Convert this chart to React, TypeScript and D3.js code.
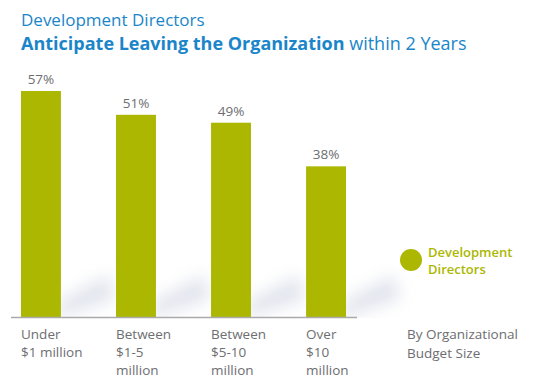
import React from 'react'
import * as d3 from 'd3'

const categories = ['Under|$1 million', 'Between|$1-5|million', 'Between|$5-10|million', 'Over|$10|million']
const values = [57, 51, 49, 38]
const seriesName = ['Development', 'Directors']
const axisNote = ['By Organizational', 'Budget Size']

const W = 545
const H = 392
const green = '#abb700'
const blue = '#1a86c9'
const grey = '#6d6e71'

function App() {
  // bars sit on a zero baseline at y=317
  const x = d3.scaleBand().domain(categories).range([21, 346]).paddingInner(0.58).paddingOuter(0)
  const y = d3.scaleLinear().domain([0, 57]).range([317, 91])

  return (
    <svg width={W} height={H} style={{ position: 'absolute', left: 0, top: 0, fontFamily: "'Open Sans', 'Noto Sans', sans-serif" }}>
      <defs>
        <filter id="blur" x="-50%" y="-50%" width="200%" height="200%">
          <feGaussianBlur stdDeviation="8" />
        </filter>
      </defs>
      <rect width={W} height={H} fill="#fff" />
      <text x={21} y={26} fontSize={17} fill={blue}>Development Directors</text>
      <text x={21} y={50} fontSize={18} fill={blue}>
        <tspan fontWeight="bold">Anticipate Leaving the Organization</tspan>
        <tspan> within 2 Years</tspan>
      </text>

      {/* soft diagonal shadows behind bars */}
      {categories.map((c) => {
        const bx = (x(c) as number) + x.bandwidth()
        return (
          <polygon
            key={'s' + c}
            points={`${bx - 6},${y(0) + 2} ${bx - 2},${y(0) - 16} ${bx + 48},${y(0) - 42} ${bx + 54},${y(0) - 18}`}
            fill="#c6cbdc"
            opacity={0.5}
            filter="url(#blur)"
          />
        )
      })}
      <rect x={0} y={y(0) + 1} width={W} height={20} fill="#fff" />

      {categories.map((c, i) => (
        <g key={c}>
          <rect x={x(c)} y={y(values[i])} width={x.bandwidth()} height={y(0) - y(values[i])} fill={green} />
          <text x={(x(c) as number) + x.bandwidth() / 2} y={y(values[i]) - 7} textAnchor="middle" fontSize={13.5} fill={grey}>
            {values[i]}%
          </text>
          {c.split('|').map((line, j) => (
            <text key={j} x={x(c)} y={339 + j * 18} fontSize={13.5} fill={grey}>{line}</text>
          ))}
        </g>
      ))}
      <line x1={11} x2={357} y1={y(0) + 0.5} y2={y(0) + 0.5} stroke="#aaa" strokeWidth={1.5} />

      <circle cx={411} cy={260} r={11} fill={green} />
      {seriesName.map((s, j) => (
        <text key={s} x={428} y={257 + j * 17} fontSize={13} fontWeight={600} fill={green}>{s}</text>
      ))}
      {axisNote.map((s, j) => (
        <text key={s} x={407} y={339 + j * 19} fontSize={13.5} fill={grey}>{s}</text>
      ))}
    </svg>
  )
}

export default App
